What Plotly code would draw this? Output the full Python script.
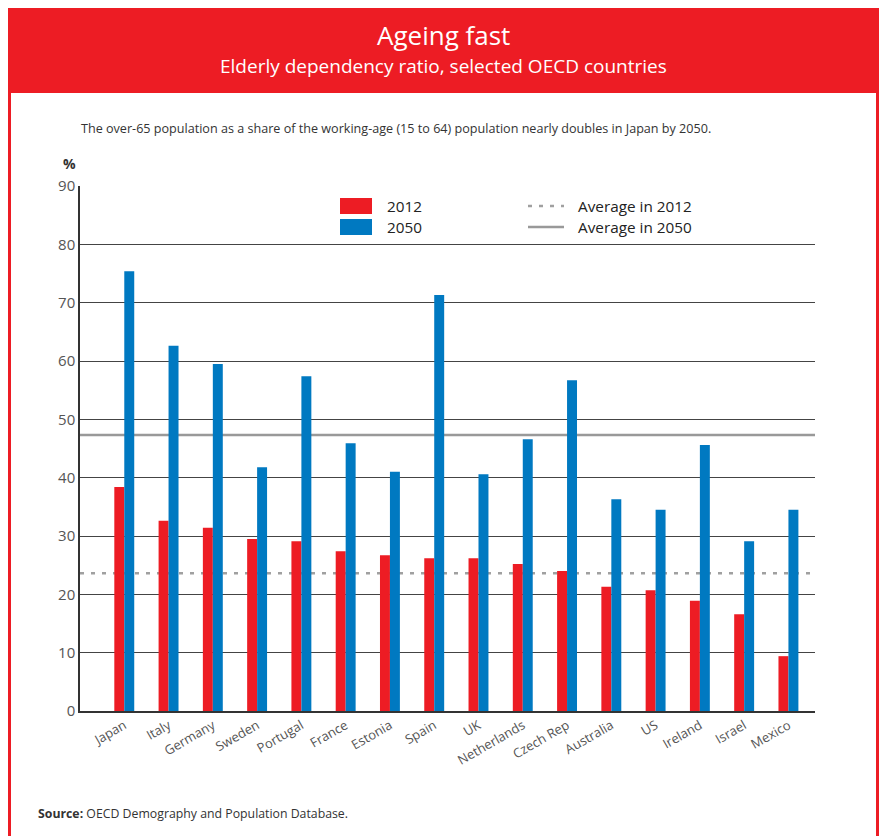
import plotly.graph_objects as go

# Elderly dependency ratio (%), selected OECD countries
countries = ["Japan", "Italy", "Germany", "Sweden", "Portugal", "France", "Estonia",
             "Spain", "UK", "Netherlands", "Czech Rep", "Australia", "US", "Ireland",
             "Israel", "Mexico"]
ratio_2012 = [38.4, 32.6, 31.4, 29.5, 29.1, 27.4, 26.7, 26.2, 26.2, 25.2, 24.0,
              21.3, 20.7, 18.9, 16.6, 9.4]
ratio_2050 = [75.4, 62.6, 59.5, 41.8, 57.4, 45.9, 41.0, 71.3, 40.6, 46.6, 56.7,
              36.3, 34.5, 45.6, 29.1, 34.5]
avg_2012 = 23.6
avg_2050 = 47.3
y_ticks = [0, 10, 20, 30, 40, 50, 60, 70, 80, 90]

RED = "#ED1C24"
BLUE = "#0079C1"
FONT = "Liberation Sans Narrow, Open Sans, sans-serif"

W, H = 883, 836
L, R, T, B = 80, 68, 186, 125
PW, PH = W - L - R, H - T - B


def px(x):
    return (x - L) / PW


def py(y):
    return (H - B - y) / PH


fig = go.Figure()
fig.add_bar(x=countries, y=ratio_2012, name="2012", marker_color=RED,
            marker_line_width=0, showlegend=False)
fig.add_bar(x=countries, y=ratio_2050, name="2050", marker_color=BLUE,
            marker_line_width=0, showlegend=False)

shapes = []
# average reference lines (behind the bars)
shapes.append(dict(type="line", xref="paper", yref="y", x0=0, x1=1, y0=avg_2012, y1=avg_2012,
                   line=dict(color="#A0A0A0", width=2.5, dash="4px,7px"), layer="below"))
shapes.append(dict(type="line", xref="paper", yref="y", x0=0, x1=1, y0=avg_2050, y1=avg_2050,
                   line=dict(color="#999999", width=2.5), layer="below"))

# header banner and frame
shapes.append(dict(type="rect", xref="paper", yref="paper", x0=px(8), x1=px(879),
                   y0=py(93), y1=py(8), fillcolor=RED, line_width=0, layer="below"))
shapes.append(dict(type="rect", xref="paper", yref="paper", x0=px(8), x1=px(11),
                   y0=py(836), y1=py(93), fillcolor=RED, line_width=0, layer="below"))
shapes.append(dict(type="rect", xref="paper", yref="paper", x0=px(876), x1=px(879),
                   y0=py(836), y1=py(93), fillcolor=RED, line_width=0, layer="below"))

# legend keys
shapes.append(dict(type="rect", xref="paper", yref="paper", x0=px(340), x1=px(372),
                   y0=py(214), y1=py(198), fillcolor=RED, line_width=0))
shapes.append(dict(type="rect", xref="paper", yref="paper", x0=px(340), x1=px(372),
                   y0=py(235), y1=py(219), fillcolor=BLUE, line_width=0))
shapes.append(dict(type="line", xref="paper", yref="paper", x0=px(528), x1=px(564),
                   y0=py(206), y1=py(206),
                   line=dict(color="#A0A0A0", width=2.5, dash="4px,7px")))
shapes.append(dict(type="line", xref="paper", yref="paper", x0=px(528), x1=px(564),
                   y0=py(227), y1=py(227), line=dict(color="#999999", width=2.5)))

annotations = [
    dict(text="Ageing fast", x=px(443), y=py(35), xref="paper", yref="paper",
         showarrow=False, font=dict(family=FONT, size=26, color="white"),
         xanchor="center", yanchor="middle"),
    dict(text="Elderly dependency ratio, selected OECD countries", x=px(443), y=py(66),
         xref="paper", yref="paper", showarrow=False,
         font=dict(family=FONT, size=19, color="white"), xanchor="center", yanchor="middle"),
    dict(text="The over-65 population as a share of the working-age (15 to 64) population "
              "nearly doubles in Japan by 2050.",
         x=px(79), y=py(128), xref="paper", yref="paper", showarrow=False,
         font=dict(family=FONT, size=12.6, color="#333333"), xanchor="left", yanchor="middle"),
    dict(text="<b>%</b>", x=px(69), y=py(163), xref="paper", yref="paper", showarrow=False,
         font=dict(family=FONT, size=14, color="#333333"), xanchor="center", yanchor="middle"),
    dict(text="2012", x=px(385), y=py(206), xref="paper", yref="paper", showarrow=False,
         font=dict(family=FONT, size=15.3, color="#222222"), xanchor="left", yanchor="middle"),
    dict(text="2050", x=px(385), y=py(227), xref="paper", yref="paper", showarrow=False,
         font=dict(family=FONT, size=15.3, color="#222222"), xanchor="left", yanchor="middle"),
    dict(text="Average in 2012", x=px(576), y=py(206), xref="paper", yref="paper",
         showarrow=False, font=dict(family=FONT, size=15.3, color="#222222"),
         xanchor="left", yanchor="middle"),
    dict(text="Average in 2050", x=px(576), y=py(227), xref="paper", yref="paper",
         showarrow=False, font=dict(family=FONT, size=15.3, color="#222222"),
         xanchor="left", yanchor="middle"),
    dict(text="<b>Source:</b> OECD Demography and Population Database.", x=px(36), y=py(813),
         xref="paper", yref="paper", showarrow=False,
         font=dict(family=FONT, size=12.3, color="#333333"), xanchor="left", yanchor="middle"),
]

fig.update_layout(
    width=W, height=H,
    margin=dict(l=L, r=R, t=T, b=B, pad=0),
    paper_bgcolor="white", plot_bgcolor="white",
    barmode="group", bargap=0.55, bargroupgap=0,
    shapes=shapes, annotations=annotations,
    font=dict(family=FONT),
    xaxis=dict(type="category", range=[-1.0, 15.6], tickangle=-30,
               showline=True, linecolor="#333333", linewidth=2,
               ticks="", showgrid=False,
               tickfont=dict(family=FONT, size=13, color="#555555")),
    yaxis=dict(range=[0, 90], tickvals=y_ticks, showline=True, linecolor="#333333",
               linewidth=1.5, showgrid=True, gridcolor="#444444", gridwidth=1,
               ticks="", zeroline=False,
               tickfont=dict(family=FONT, size=15, color="#555555")),
)

fig.write_html("out.html")
